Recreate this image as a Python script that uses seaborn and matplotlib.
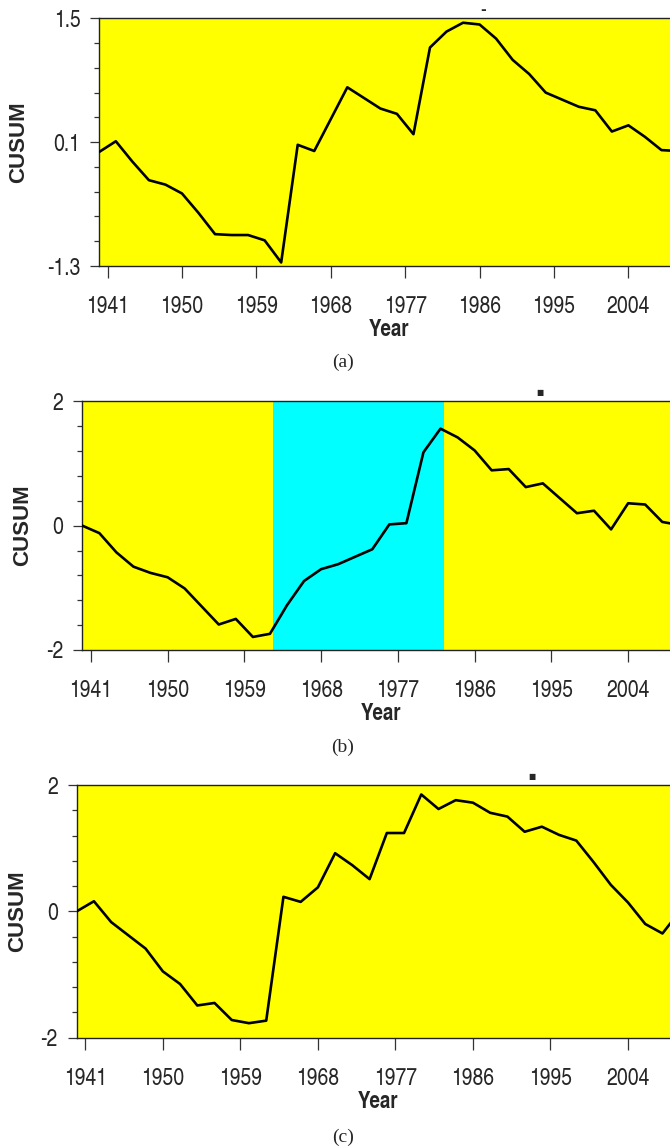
import numpy as np
import pandas as pd
import matplotlib
matplotlib.use("Agg")
import matplotlib.pyplot as plt
import seaborn as sns

# ---------------- data ----------------
years = list(range(1940, 2011, 2))

cusum_a = [-0.01, 0.11, -0.12, -0.33, -0.38, -0.48, -0.70, -0.94, -0.95, -0.95,
           -1.01, -1.26, 0.07, 0.00, 0.36, 0.72, 0.60, 0.48, 0.42, 0.19,
           1.17, 1.35, 1.45, 1.43, 1.27, 1.03, 0.87, 0.66, 0.58, 0.50,
           0.46, 0.22, 0.29, 0.16, 0.01, 0.00]

cusum_b = [0.00, -0.12, -0.43, -0.66, -0.76, -0.83, -1.01, -1.30, -1.59, -1.50,
           -1.79, -1.74, -1.28, -0.89, -0.70, -0.62, -0.50, -0.38, 0.02, 0.04,
           1.18, 1.56, 1.42, 1.21, 0.89, 0.91, 0.62, 0.68, 0.44, 0.20,
           0.24, -0.06, 0.36, 0.34, 0.06, 0.01]

cusum_c = [0.00, 0.16, -0.17, -0.38, -0.59, -0.95, -1.15, -1.49, -1.45, -1.72,
           -1.77, -1.73, 0.23, 0.15, 0.38, 0.92, 0.73, 0.51, 1.24, 1.24,
           1.85, 1.62, 1.76, 1.72, 1.56, 1.50, 1.26, 1.34, 1.21, 1.12,
           0.78, 0.42, 0.14, -0.20, -0.35, 0.00]

panel_labels = ["(a)", "(b)", "(c)"]
xtick_years = [1941, 1950, 1959, 1968, 1977, 1986, 1995, 2004]
yticks_a = [-1.3, 0.1, 1.5]
yticks_bc = [-2, 0, 2]
shade_b = (1962.4, 1982.4)
top_marks = ["-", "\u25A0", "\u25A0"]

# ---------------- style ----------------
sns.set_style("ticks")
COND = ['TeX Gyre Heros Cn', 'Archivo Narrow', 'Liberation Sans', 'DejaVu Sans']
plt.rcParams['font.family'] = COND

W, H = 670, 1148
fig = plt.figure(figsize=(W / 100, H / 100), dpi=100)


def rect(left, top, right, bottom):
    return [left / W, 1 - bottom / H, (right - left) / W, (bottom - top) / H]


panels = [
    dict(vals=cusum_a, box=(99.3, 18.3, 678.0, 266.0), yticks=yticks_a, ylim=(-1.3, 1.5),
         minor=0.28, ylab_x=19, mark_xy=(482.7, 10.2), label_y=362, shade=None),
    dict(vals=cusum_b, box=(82.3, 401.3, 679.3, 650.0), yticks=yticks_bc, ylim=(-2, 2),
         minor=0.4, ylab_x=23, mark_xy=(540.0, 392.7), label_y=747, shade=shade_b),
    dict(vals=cusum_c, box=(76.7, 785.0, 679.7, 1037.7), yticks=yticks_bc, ylim=(-2, 2),
         minor=0.4, ylab_x=18, mark_xy=(531.7, 776.3), label_y=1137, shade=None),
]

for i, p in enumerate(panels):
    l, t, r, b = p["box"]
    ax = fig.add_axes(rect(l, t, r, b))
    ax.set_facecolor("#FFFF00")
    if p["shade"] is not None:
        ax.axvspan(p["shade"][0], p["shade"][1], color="#00FFFF", zorder=0.5, lw=0)

    df = pd.DataFrame({"Year": years, "CUSUM": p["vals"]})
    sns.lineplot(data=df, x="Year", y="CUSUM", ax=ax, color="black",
                 linewidth=1.9, zorder=3)

    ax.set_xlim(1940, 2010)
    ax.set_ylim(*p["ylim"])
    ax.set_xticks(xtick_years)
    ax.set_xticklabels([str(y) for y in xtick_years])
    ax.set_yticks(p["yticks"])
    ax.set_yticklabels([f"{v:g}" for v in p["yticks"]])
    lo, hi = p["ylim"]
    n = int(round((hi - lo) / p["minor"]))
    ax.set_yticks([lo + k * p["minor"] for k in range(n + 1)], minor=True)

    for s in ["left", "top", "bottom"]:
        ax.spines[s].set_visible(True)
        ax.spines[s].set_color("#222222")
        ax.spines[s].set_linewidth(1.0)
    ax.spines["right"].set_visible(False)

    ax.tick_params(axis="x", which="major", length=8.5, width=0.9, color="#333333",
                   pad=13.0, labelsize=17, direction="out")
    ax.tick_params(axis="y", which="major", length=6.5, width=0.9, color="#333333",
                   pad=7, labelsize=17, direction="out")
    ax.tick_params(axis="y", which="minor", length=3.8, width=0.9, color="#333333",
                   direction="out")
    ax.tick_params(axis="x", which="minor", length=0)

    # axis labels
    ax.set_ylabel("")
    fig.text(p["ylab_x"] / W, 1 - ((t + b) / 2) / H, "CUSUM", rotation=90,
             ha="center", va="center", fontsize=16, fontweight="bold",
             family=["Liberation Sans", "DejaVu Sans"])
    ax.set_xlabel("Year", fontsize=16.5, fontweight="bold")
    ax.xaxis.label.set_va("center")
    hpx = b - t
    ax.xaxis.set_label_coords(0.5, -(64.5 / hpx))

    # small top marks
    fig.text(p["mark_xy"][0] / W, 1 - p["mark_xy"][1] / H, top_marks[i],
             ha="center", va="center", fontsize=(10 if i == 0 else 5.5),
             fontweight="bold", family=["DejaVu Sans"])

    # panel label
    fig.text(343 / W, 1 - p["label_y"] / H, panel_labels[i], ha="center", va="center",
             fontsize=14, family=["Liberation Serif", "DejaVu Serif"])

fig.savefig("out.png", dpi=100)
